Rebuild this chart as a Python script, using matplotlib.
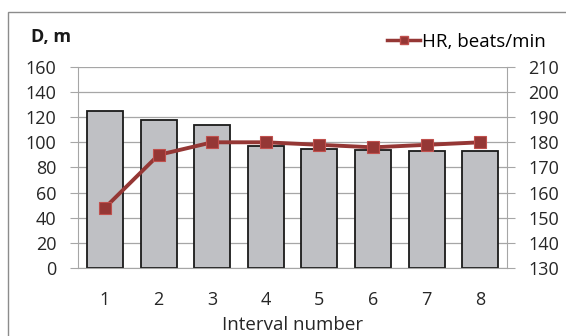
import numpy as np
import matplotlib.pyplot as plt
from matplotlib.patches import Rectangle
from matplotlib.lines import Line2D

plt.rcParams['font.family'] = ['Open Sans', 'DejaVu Sans']

intervals = ['1', '2', '3', '4', '5', '6', '7', '8']
distance = [125, 118, 114, 97, 95, 94, 93, 93]      # D, m
hr = [154, 175, 180, 180, 179, 178, 179, 180]       # HR, beats/min

x = np.arange(1, len(intervals) + 1)
red = '#953735'

fig = plt.figure(figsize=(5.66, 3.36), dpi=100)
ax = fig.add_axes([0.138, 0.2015, 0.758, 0.600])

# outer chart frame
fig.patches.append(Rectangle((8/566, -0.05), 1.0, 1 - 12/336 + 0.05,
                             transform=fig.transFigure, fill=False,
                             edgecolor='#8c8c8c', linewidth=1.0))

ax.bar(x, distance, width=0.67, color='#bfc0c4', edgecolor='#1a1a1a',
       linewidth=1.3, zorder=2)
ax.set_xlim(0.5, 8.5)
ax.set_ylim(0, 160)
ax.set_yticks(np.arange(0, 161, 20))
ax.set_xticks(x)
ax.set_xticklabels(intervals)
ax.grid(axis='y', color='#a6a6a6', linewidth=0.9, zorder=0)
ax.set_axisbelow(True)
ax.spines['top'].set_visible(False)
ax.spines['left'].set_color('#a6a6a6')
ax.spines['right'].set_visible(False)
ax.spines['bottom'].set_color('#a6a6a6')
ax.tick_params(axis='y', length=5.5, color='#a6a6a6', labelsize=13,
               pad=10, labelcolor='#262626')
ax.tick_params(axis='x', length=0, labelsize=13, pad=16,
               labelcolor='#262626')

ax2 = ax.twinx()
ax2.plot(x, hr, color=red, linewidth=2.8, marker='s', markersize=8,
         markerfacecolor=red, markeredgecolor='#c0504d',
         markeredgewidth=0.8, zorder=3)
ax2.set_ylim(130, 210)
ax2.set_yticks(np.arange(130, 211, 10))
for s in ['top', 'left', 'bottom']:
    ax2.spines[s].set_visible(False)
ax2.spines['right'].set_color('#a6a6a6')
ax2.tick_params(axis='y', length=6, color='#a6a6a6', labelsize=13,
                pad=9, labelcolor='#262626')

fig.text(31/566, 1 - 37/336, 'D, m', fontsize=13, fontweight='bold',
         va='center', ha='left', color='#1a1a1a')
fig.text(293/566, 1 - 325/336, 'Interval number', fontsize=13.5,
         va='center', ha='center', color='#262626')

handle = Line2D([], [], color=red, linewidth=2.5, marker='s', markersize=6,
                markerfacecolor=red, markeredgecolor='#c0504d')
fig.legend([handle], ['HR, beats/min'], loc='center right',
           bbox_to_anchor=(546/566, 1 - 42/336), frameon=False,
           fontsize=13.5, handlelength=1.8, handletextpad=0.1,
           borderaxespad=0, borderpad=0)

fig.savefig('out.png', dpi=100)
